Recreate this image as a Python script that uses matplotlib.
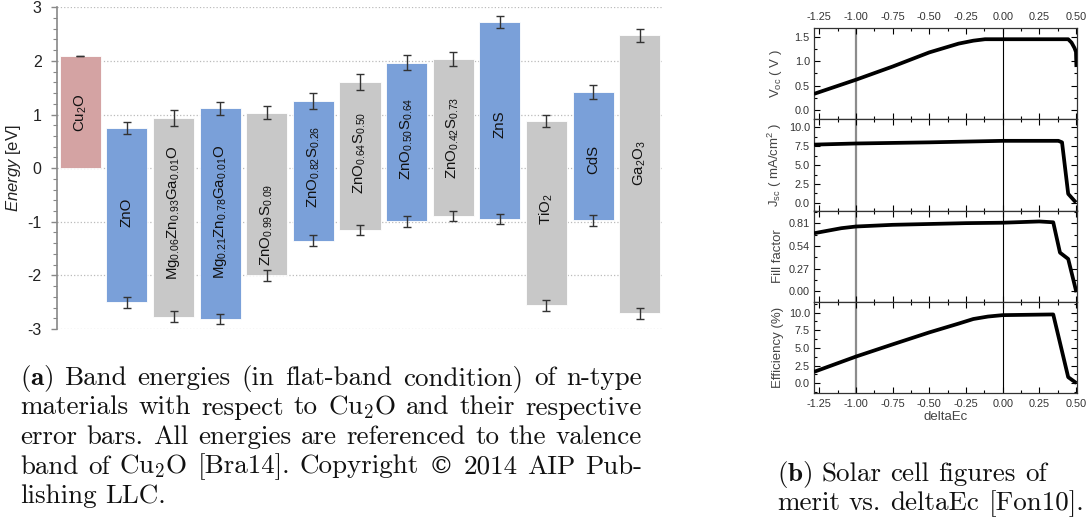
import matplotlib
matplotlib.use("Agg")
import matplotlib.pyplot as plt
from matplotlib.ticker import MultipleLocator, FixedLocator, FormatStrFormatter

plt.rcParams['font.family'] = ['Liberation Sans', 'DejaVu Sans']
plt.rcParams['mathtext.fontset'] = 'custom'
plt.rcParams['mathtext.rm'] = 'Liberation Sans'
plt.rcParams['mathtext.it'] = 'Liberation Sans:italic'
plt.rcParams['mathtext.bf'] = 'Liberation Sans:bold'
plt.rcParams['axes.unicode_minus'] = False

# ---- (a) band energies, referenced to the Cu2O valence band ----
materials = [r"Cu$_2$O", "ZnO", r"Mg$_{0.06}$Zn$_{0.93}$Ga$_{0.01}$O",
             r"Mg$_{0.21}$Zn$_{0.78}$Ga$_{0.01}$O", r"ZnO$_{0.99}$S$_{0.09}$",
             r"ZnO$_{0.82}$S$_{0.26}$", r"ZnO$_{0.64}$S$_{0.50}$",
             r"ZnO$_{0.50}$S$_{0.64}$", r"ZnO$_{0.42}$S$_{0.73}$", "ZnS",
             r"TiO$_2$", "CdS", r"Ga$_2$O$_3$"]
band_top = [2.10, 0.756, 0.94, 1.12, 1.03, 1.25, 1.605, 1.97, 2.035, 2.725, 0.88, 1.415, 2.475]
band_bottom = [0.0, -2.505, -2.77, -2.815, -2.0, -1.35, -1.156, -0.99, -0.895, -0.95, -2.56, -0.97, -2.71]
err_top = [0.0, 0.11, 0.15, 0.12, 0.12, 0.15, 0.145, 0.14, 0.125, 0.12, 0.11, 0.13, 0.125]
err_bottom = [0.0, 0.105, 0.10, 0.10, 0.10, 0.105, 0.10, 0.10, 0.10, 0.10, 0.10, 0.10, 0.10]
kind = ["ref", "blue", "gray", "blue", "gray", "blue", "gray", "blue", "gray", "blue", "gray", "blue", "gray"]

# where the labels sit inside the bars (layout)
label_y = [1.04, -0.83, -0.84, -0.81, -1.05, 0.03, 0.28, 0.55, 0.57, 0.82, -0.77, 0.17, 0.09]

# ---- (b) solar cell figures of merit vs deltaEc ----
dec_voc = [-1.286, -1.0, -0.75, -0.5, -0.3, -0.2, -0.12, 0.0, 0.2, 0.447, 0.47, 0.49, 0.5, 0.503]
voc = [0.33, 0.62, 0.89, 1.18, 1.36, 1.42, 1.45, 1.45, 1.45, 1.45, 1.38, 1.27, 1.19, 0.88]
dec_jsc = [-1.286, -1.0, -0.5, 0.0, 0.38, 0.405, 0.447, 0.5]
jsc = [7.7, 7.85, 8.0, 8.2, 8.2, 8.0, 1.2, 0.05]
dec_ff = [-1.286, -1.1, -1.0, -0.75, -0.5, -0.25, 0.0, 0.25, 0.345, 0.391, 0.447, 0.503]
ff = [0.69, 0.75, 0.77, 0.79, 0.80, 0.81, 0.815, 0.83, 0.82, 0.46, 0.385, -0.01]
dec_eff = [-1.286, -1.0, -0.75, -0.5, -0.3, -0.2, -0.1, 0.0, 0.345, 0.447, 0.503]
eff = [1.6, 3.77, 5.5, 7.2, 8.45, 9.1, 9.45, 9.65, 9.75, 0.85, 0.0]

caption_a = ["$\\mathbf{(a)}$ Band energies (in flat-band condition) of n-type",
             "materials with respect to Cu$_2$O and their respective",
             "error bars. All energies are referenced to the valence",
             "band of Cu$_2$O [Bra14]. Copyright \u00a9 2014 AIP Pub-",
             "lishing LLC."]
caption_b = ["$\\mathbf{(b)}$ Solar cell figures of",
             "merit vs. deltaEc [Fon10]."]

W, H = 1092, 519
fig = plt.figure(figsize=(W / 100, H / 100), dpi=100)

colors = {"ref": "#d4a3a3", "blue": "#7aa0d9", "gray": "#c8c8c8"}

ax = fig.add_axes([57 / W, 1 - 329 / H, 606 / W, 321.7 / H])
xs = list(range(len(materials)))
heights = [t - b for t, b in zip(band_top, band_bottom)]
ax.bar(xs, heights, bottom=band_bottom, width=0.88,
       color=[colors[k] for k in kind], edgecolor='white', linewidth=0.6, zorder=2)
ax.errorbar(xs, band_top, yerr=err_top, fmt='none', ecolor='#333333',
            elinewidth=1, capsize=3, capthick=1, zorder=3)
ax.errorbar(xs[1:], band_bottom[1:], yerr=err_bottom[1:], fmt='none', ecolor='#333333',
            elinewidth=1, capsize=3, capthick=1, zorder=3)
for x, name, ly in zip(xs, materials, label_y):
    ax.text(x, ly, name, rotation=90, ha='center', va='center',
            fontsize=10.8, color='#111111', zorder=4)

ax.set_xlim(-0.5, 12.5)
ax.set_ylim(-3, 3)
ax.set_yticks(range(-3, 4))
ax.yaxis.set_minor_locator(MultipleLocator(0.2))
ax.tick_params(axis='y', which='major', direction='out', length=4, width=1,
               color='#888888', labelsize=11.5, labelcolor='#222222', pad=7)
ax.tick_params(axis='y', which='minor', direction='out', length=3, width=0.8,
               color='#888888')
ax.set_xticks([])
for s in ['top', 'right', 'bottom']:
    ax.spines[s].set_visible(False)
ax.spines['left'].set_color('#888888')
ax.spines['left'].set_linewidth(1.2)
ax.yaxis.grid(True, linestyle=':', color='#bbbbbb', linewidth=0.9)
ax.set_axisbelow(True)
ax.set_ylabel(r"$\mathit{Energy}$ [eV]", fontsize=12, color='#222222')
ax.yaxis.set_label_coords(-0.056, 0.5)

# ---- panel (b) ----
gs = fig.add_gridspec(4, 1, left=814 / W, right=1076.7 / W,
                      top=1 - 28 / H, bottom=1 - 393 / H, hspace=0)
panels = [
    (dec_voc, voc, (-0.19, 1.68), [0.0, 0.5, 1.0, 1.5], 0.25, "%.1f", r"V$_\mathrm{oc}$ ( V )"),
    (dec_jsc, jsc, (-1.0, 11.05), [0.0, 2.5, 5.0, 7.5, 10.0], 1.25, "%.1f",
     r"J$_\mathrm{sc}$ ( mA/cm$^2$ )"),
    (dec_ff, ff, (-0.123, 0.96), [0.0, 0.27, 0.54, 0.81], 0.135, "%.2f", "Fill factor"),
    (dec_eff, eff, (-1.4, 11.55), [0.0, 2.5, 5.0, 7.5, 10.0], 1.25, "%.1f", "Efficiency (%)"),
]
axes_b = []
for i, (xd, yd, ylim, yt, ymin, fmt, lab) in enumerate(panels):
    a = fig.add_subplot(gs[i, 0])
    axes_b.append(a)
    a.axvline(-1.0, color='#8c8c8c', linewidth=1.6, zorder=1)
    a.axvline(0.0, color='black', linewidth=0.8, zorder=1)
    a.plot(xd, yd, color='black', linewidth=2.7, solid_capstyle='butt', zorder=3)
    a.set_xlim(-1.286, 0.505)
    a.set_ylim(*ylim)
    a.set_xticks([-1.25, -1.0, -0.75, -0.5, -0.25, 0.0, 0.25, 0.5])
    a.xaxis.set_minor_locator(MultipleLocator(0.125))
    a.yaxis.set_major_locator(FixedLocator(yt))
    a.yaxis.set_minor_locator(MultipleLocator(ymin))
    a.yaxis.set_major_formatter(FormatStrFormatter(fmt))
    a.xaxis.set_major_formatter(FormatStrFormatter("%.2f"))
    a.tick_params(which='both', direction='in', top=True, right=True,
                  labelsize=7.8, labelcolor='#333333', width=0.8)
    a.tick_params(which='major', length=4)
    a.tick_params(which='minor', length=2)
    a.tick_params(axis='y', pad=3)
    a.tick_params(axis='x', labelbottom=(i == 3), labeltop=(i == 0), pad=4)
    for s in a.spines.values():
        s.set_linewidth(0.9)
        s.set_color('#333333')
    a.set_ylabel(lab, fontsize=9.5, color='#444444')
    a.yaxis.set_label_coords(-0.113, 0.5)
axes_b[-1].set_xlabel("deltaEc", fontsize=9.5, color='#444444', labelpad=2)

# ---- captions, LaTeX-like serif, justified ----
renderer = fig.canvas.get_renderer()
cap_kw = dict(family=['cmr10', 'DejaVu Serif'], math_fontfamily='cm', color='#111111')
sym_kw = dict(family='DejaVu Serif', color='#111111')


def word_kw(w, size):
    # cmr10 maps the copyright sign to a wrong glyph
    if '\u00a9' in w:
        return dict(fontsize=size * 0.92, **sym_kw)
    return dict(fontsize=size, **cap_kw)


def text_width(s, size):
    t = fig.text(0, 0, s, **word_kw(s, size))
    w = t.get_window_extent(renderer).width
    t.remove()
    return w


# font size so that the second line of (b) spans its measured width
size = 10 * 307 / text_width(caption_b[1], 10)
space = text_width("a a", size) - text_width("aa", size)


def put_lines(lines, x0, x1, y0, dy, justify):
    for k, line in enumerate(lines):
        words = line.split(' ')
        widths = [text_width(w, size) for w in words]
        last = (k == len(lines) - 1)
        if justify and not last and len(words) > 1:
            gap = (x1 - x0 - sum(widths)) / (len(words) - 1)
        else:
            gap = space
        x = x0
        y = y0 + k * dy
        for w, wd in zip(words, widths):
            fig.text(x / W, 1 - y / H, w, va='baseline', ha='left', **word_kw(w, size))
            x += wd + gap


put_lines(caption_a, 20, 642, 385, 29.5, True)
put_lines(caption_b, 777, 1085, 481, 29.5, False)

fig.savefig("out.png", dpi=100)
